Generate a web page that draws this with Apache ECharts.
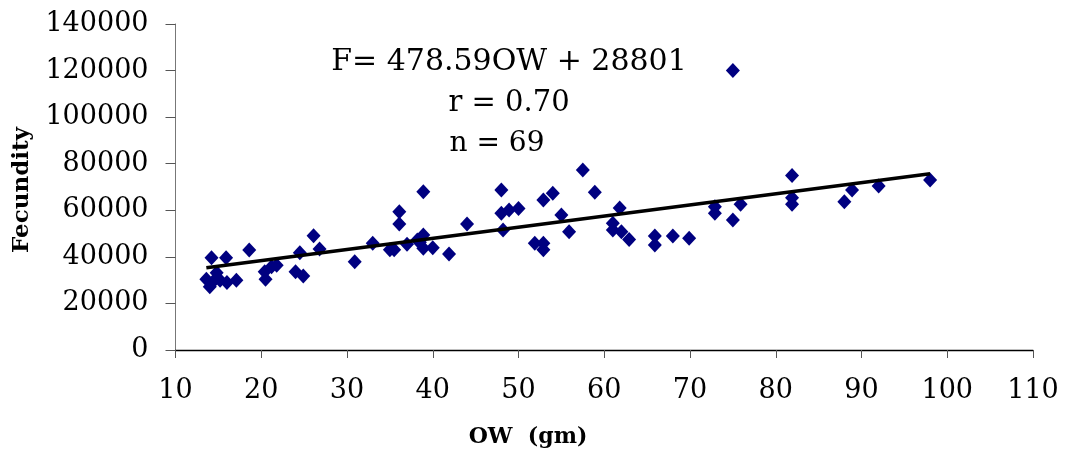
<!DOCTYPE html>
<html>
<head>
<meta charset="utf-8">
<script src="https://cdn.jsdelivr.net/npm/echarts@6/dist/echarts.min.js"></script>
<style>
  html, body { margin: 0; padding: 0; background: #fff; }
  #chart { width: 1065px; height: 452px; }
</style>
</head>
<body>
<div id="chart"></div>
<script>
// Ovary weight (gm) of each fish
const owValues = [
  14.2, 15.9, 18.6, 13.6, 14.0, 14.8, 15.2, 16.0, 17.1, 14.5,
  20.4, 21.2, 20.5, 24.0, 24.9, 24.5, 26.1, 26.8, 21.8,
  30.9, 33.0, 35.0, 35.5, 36.1, 36.1, 37.0, 38.2, 38.9, 38.9, 38.9, 40.0, 41.9, 44.0, 38.5,
  48.0, 48.0, 48.9, 50.0, 48.2, 52.9, 54.0, 57.5, 58.9, 55.0, 55.9,
  51.9, 52.9, 52.9,
  61.0, 61.0, 61.8,
  62.0, 62.9, 65.9, 65.9, 68.0, 69.9, 72.9, 72.9, 75.0, 75.9, 75.0,
  81.9, 81.9, 81.9, 88.0, 88.9, 92.0, 98.0
];
// Fecundity of each fish
const fecundityValues = [
  39600, 39600, 42900, 30400, 27200, 33200, 30000, 29000, 30000, 29800,
  33600, 35800, 30400, 33600, 31800, 41800, 49100, 43400, 36400,
  37900, 45800, 43000, 43000, 59400, 54100, 45400, 47200, 49400, 43700, 68000, 43900, 41200, 54100, 46300,
  68700, 58700, 60100, 60800, 51500, 64400, 67300, 77300, 67700, 58000, 50800,
  45800, 45800, 43000,
  54400, 51500, 61000,
  50800, 47500, 49000, 45100, 49000, 48000, 61500, 58700, 55800, 62600, 120000,
  74900, 65400, 62600, 63700, 68700, 70400, 73000
];
// Linear trend line end points (F = 478.59 OW + 28801)
const trendX = [13.6, 98.0];
const trendY = [35310, 75703];

const xTicks = [10, 110, 10];        // min, max, interval
const yTicks = [0, 140000, 20000];   // min, max, interval

const annotationLines = ['F= 478.59OW + 28801', 'r = 0.70', 'n = 69'];
const xTitle = 'OW  (gm)';
const yTitle = 'Fecundity';

const scatterData = owValues.map((x, i) => [x, fecundityValues[i]]);
const trendData = trendX.map((x, i) => [x, trendY[i]]);

const FONT = '"DejaVu Serif", serif';
const chart = echarts.init(document.getElementById('chart'), null, { renderer: 'canvas' });

chart.setOption({
  animation: false,
  backgroundColor: '#ffffff',
  grid: { left: 175.5, right: 32, top: 24, bottom: 102, containLabel: false },
  xAxis: {
    type: 'value',
    min: xTicks[0], max: xTicks[1], interval: xTicks[2],
    axisLine: { onZero: false, lineStyle: { color: '#000', width: 1.3 } },
    axisTick: { show: true, length: 8, lineStyle: { color: '#555' } },
    axisLabel: { color: '#000', fontFamily: FONT, fontSize: 27, margin: 27, formatter: v => String(v) },
    splitLine: { show: false }
  },
  yAxis: {
    type: 'value',
    min: yTicks[0], max: yTicks[1], interval: yTicks[2],
    axisLine: { show: true, lineStyle: { color: '#777', width: 1 } },
    axisTick: { show: true, length: 10, lineStyle: { color: '#555' } },
    axisLabel: { color: '#000', fontFamily: FONT, fontSize: 27, margin: 27, formatter: v => String(v) },
    splitLine: { show: false }
  },
  series: [
    {
      type: 'scatter',
      data: scatterData,
      symbol: 'diamond',
      symbolSize: [14, 15],
      itemStyle: { color: '#000080', opacity: 1 },
      z: 2
    },
    {
      type: 'line',
      data: trendData,
      symbol: 'none',
      lineStyle: { color: '#000', width: 3.5 },
      z: 3
    }
  ],
  graphic: [
    {
      type: 'text', x: 509, y: 62,
      style: { text: annotationLines[0], fill: '#000', font: '30px ' + FONT, textAlign: 'center', textVerticalAlign: 'middle' }
    },
    {
      type: 'text', x: 509, y: 103,
      style: { text: annotationLines[1], fill: '#000', font: '29px ' + FONT, textAlign: 'center', textVerticalAlign: 'middle' }
    },
    {
      type: 'text', x: 497, y: 144,
      style: { text: annotationLines[2], fill: '#000', font: '28px ' + FONT, textAlign: 'center', textVerticalAlign: 'middle' }
    },
    {
      type: 'text', x: 528, y: 437,
      style: { text: xTitle, fill: '#000', font: 'bold 22px ' + FONT, textAlign: 'center', textVerticalAlign: 'middle' }
    },
    {
      type: 'text', x: 22, y: 190, rotation: Math.PI / 2,
      style: { text: yTitle, fill: '#000', font: 'bold 23px ' + FONT, textAlign: 'center', textVerticalAlign: 'middle' }
    }
  ]
});
</script>
</body>
</html>
